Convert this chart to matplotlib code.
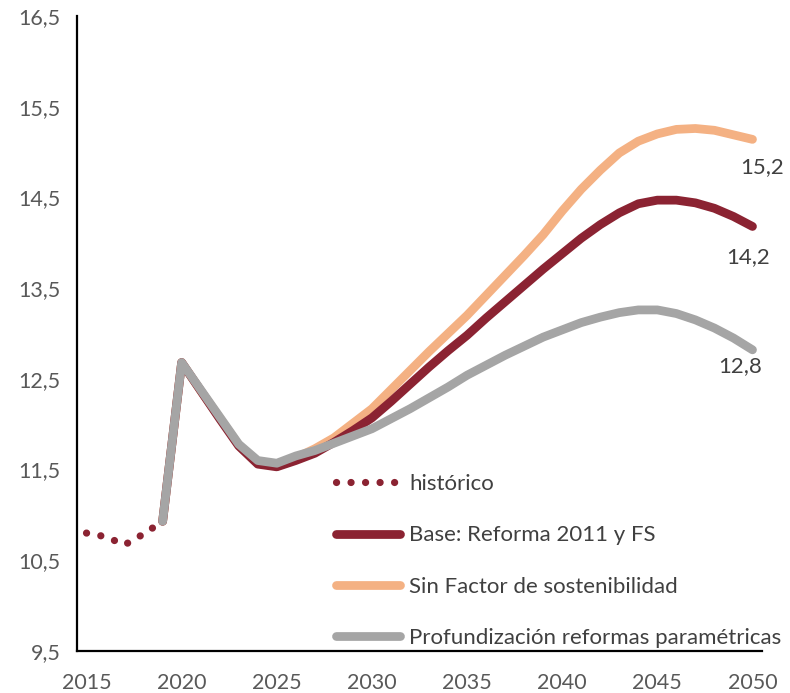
import matplotlib
matplotlib.use("Agg")
import matplotlib.pyplot as plt
import numpy as np

plt.rcParams['font.family'] = ['Lato', 'DejaVu Sans']

# ---- data ----
hist_years = [2015, 2016, 2017, 2018, 2019]
hist_vals = [10.80, 10.76, 10.67, 10.79, 10.93]

proj_years = list(range(2019, 2051))
base_vals = [10.93, 12.68, 12.37, 12.06, 11.76, 11.56, 11.53, 11.60, 11.68, 11.80,
             11.93, 12.07, 12.25, 12.44, 12.63, 12.81, 12.98, 13.17, 13.35, 13.53,
             13.71, 13.88, 14.05, 14.20, 14.33, 14.43, 14.47, 14.47, 14.44, 14.38,
             14.29, 14.18]
sinfs_vals = [10.93, 12.68, 12.37, 12.07, 11.77, 11.57, 11.55, 11.63, 11.73, 11.85,
              12.01, 12.17, 12.38, 12.59, 12.80, 13.00, 13.20, 13.42, 13.64, 13.86,
              14.09, 14.35, 14.59, 14.80, 14.99, 15.12, 15.20, 15.25, 15.26, 15.24,
              15.19, 15.14]
prof_vals = [10.93, 12.68, 12.38, 12.08, 11.78, 11.60, 11.57, 11.65, 11.71, 11.79,
             11.87, 11.95, 12.06, 12.17, 12.29, 12.41, 12.54, 12.65, 12.76, 12.86,
             12.96, 13.04, 13.12, 13.18, 13.23, 13.26, 13.26, 13.22, 13.15, 13.06,
             12.95, 12.82]

series_names = ["histórico", "Base: Reforma 2011 y FS",
                "Sin Factor de sostenibilidad",
                "Profundización reformas paramétricas"]
end_labels = ["14,2", "15,2", "12,8"]
yticks = [9.5, 10.5, 11.5, 12.5, 13.5, 14.5, 15.5, 16.5]
ytick_labels = ["9,5", "10,5", "11,5", "12,5", "13,5", "14,5", "15,5", "16,5"]
xticks = [2015, 2020, 2025, 2030, 2035, 2040, 2045, 2050]

# ---- style ----
c_red = "#8B2332"
c_orange = "#F4B183"
c_gray = "#A5A5A5"
txt = "#595959"
fs = 16
tfs = 15.5
lw = 6.3

fig = plt.figure(figsize=(7.9, 6.93), dpi=100)
ax = fig.add_axes([77/790, 1-651/693, (762-77)/790, (651-16)/693])

h_hist, = ax.plot(hist_years, hist_vals, color=c_red, lw=5.2,
                  linestyle=(0, (0.01, 2.0)), dash_capstyle='round',
                  label=series_names[0], zorder=2)
h_sin, = ax.plot(proj_years, sinfs_vals, color=c_orange, lw=lw,
                 solid_capstyle='round', solid_joinstyle='round',
                 label=series_names[2], zorder=3)
h_base, = ax.plot(proj_years, base_vals, color=c_red, lw=lw,
                  solid_capstyle='round', solid_joinstyle='round',
                  label=series_names[1], zorder=4)
h_prof, = ax.plot(proj_years, prof_vals, color=c_gray, lw=lw,
                  solid_capstyle='round', solid_joinstyle='round',
                  label=series_names[3], zorder=5)

# end labels
ax.annotate(end_labels[0], (proj_years[-1], base_vals[-1]), xytext=(-3, -22),
            textcoords='offset points', ha='center', va='center',
            fontsize=fs, color="#404040")
ax.annotate(end_labels[1], (proj_years[-1], sinfs_vals[-1]), xytext=(7, -20),
            textcoords='offset points', ha='center', va='center',
            fontsize=fs, color="#404040")
ax.annotate(end_labels[2], (proj_years[-1], prof_vals[-1]), xytext=(-9, -12),
            textcoords='offset points', ha='center', va='center',
            fontsize=fs, color="#404040")

ax.set_xlim(2014.5, 2050.5)
ax.set_ylim(9.5, 16.5)
ax.set_yticks(yticks)
ax.set_yticklabels(ytick_labels)
ax.set_xticks(xticks)
ax.set_xticklabels([str(x) for x in xticks])
ax.tick_params(axis='both', length=0, labelsize=tfs, labelcolor=txt)
ax.tick_params(axis='y', pad=12)
ax.tick_params(axis='x', pad=16)
for s in ['top', 'right']:
    ax.spines[s].set_visible(False)
for s in ['left', 'bottom']:
    ax.spines[s].set_linewidth(1.6)
    ax.spines[s].set_color('black')

leg = ax.legend(handles=[h_hist, h_base, h_sin, h_prof], loc='upper left',
                bbox_to_anchor=(336/790, 1-474/693), bbox_transform=fig.transFigure,
                frameon=False, fontsize=fs, handlelength=2.9, handletextpad=0.4,
                labelspacing=1.41, borderpad=0, borderaxespad=0)
for t in leg.get_texts():
    t.set_color("#404040")

fig.savefig("out.png", dpi=100)
